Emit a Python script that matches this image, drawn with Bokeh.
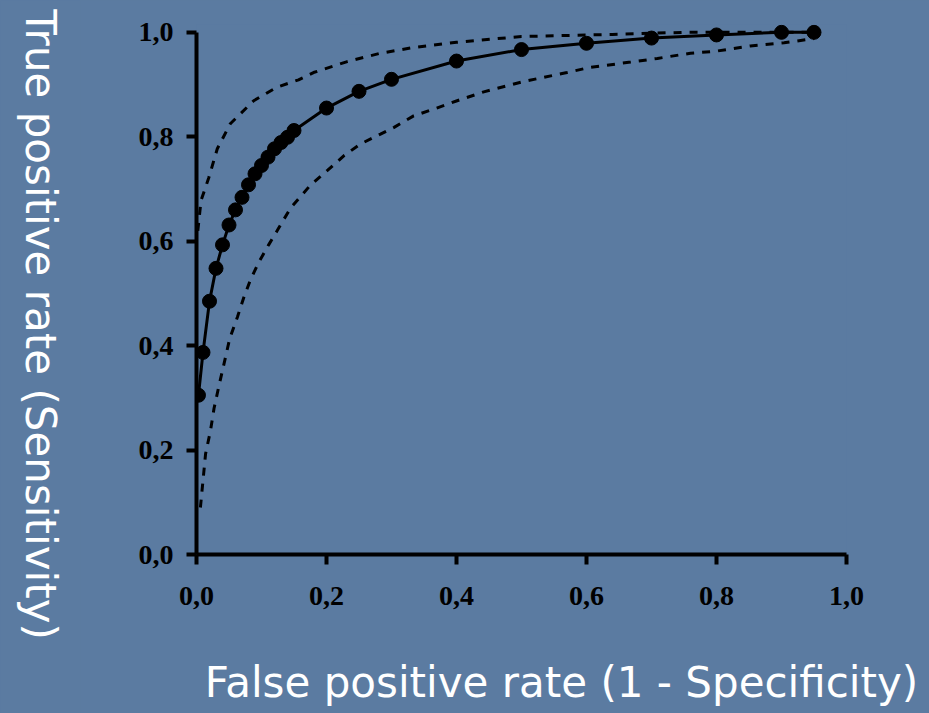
import numpy as np
from bokeh.plotting import figure
from bokeh.layouts import row
from bokeh.models import Range1d, FixedTicker
from bokeh.core.properties import value
from bokeh.embed import file_html
from bokeh.resources import INLINE

# ROC curve (estimated points)
fpr = [0.003, 0.01, 0.02, 0.03, 0.04, 0.05, 0.06, 0.07, 0.08, 0.09, 0.10, 0.11, 0.12,
       0.13, 0.14, 0.15, 0.20, 0.25, 0.30, 0.40, 0.50, 0.60, 0.70, 0.80, 0.90, 0.95]
tpr = [0.305, 0.387, 0.485, 0.548, 0.593, 0.631, 0.660, 0.684, 0.708, 0.729, 0.745, 0.761, 0.777,
       0.789, 0.799, 0.812, 0.855, 0.887, 0.910, 0.945, 0.967, 0.979, 0.989, 0.995, 1.0, 1.0]

# Upper confidence band
upper_fpr = [0.002, 0.007, 0.019, 0.032, 0.052, 0.088, 0.124, 0.157, 0.18, 0.232, 0.283,
             0.334, 0.40, 0.50, 0.64, 0.75, 0.85, 0.95]
upper_tpr = [0.62, 0.678, 0.722, 0.777, 0.825, 0.869, 0.895, 0.909, 0.923, 0.944, 0.960,
             0.971, 0.981, 0.992, 0.996, 1.0, 1.0, 1.0]

# Lower confidence band
lower_fpr = [0.006, 0.014, 0.0215, 0.027, 0.034, 0.041, 0.051, 0.063, 0.073, 0.083, 0.096,
             0.111, 0.124, 0.145, 0.175, 0.201, 0.227, 0.252, 0.283, 0.304, 0.334, 0.365,
             0.401, 0.442, 0.504, 0.57, 0.606, 0.668, 0.709, 0.76, 0.8, 0.852, 0.904, 0.95]
lower_tpr = [0.09, 0.193, 0.237, 0.28, 0.32, 0.358, 0.413, 0.455, 0.493, 0.526, 0.56,
             0.593, 0.62, 0.664, 0.707, 0.735, 0.764, 0.786, 0.805, 0.818, 0.84, 0.853,
             0.869, 0.886, 0.906, 0.923, 0.933, 0.943, 0.95, 0.96, 0.964, 0.974, 0.98, 0.988]

tick_values = [0.0, 0.2, 0.4, 0.6, 0.8, 1.0]
tick_labels = ["0,0", "0,2", "0,4", "0,6", "0,8", "1,0"]
x_title = "False positive rate (1 - Specificity)"
y_title = "True positive rate (Sensitivity)"

BG = "#5b7ba1"
NB = "\u00a0"
TITLE_FONT = "DejaVu Sans"
TITLE_SIZE = "42px"

# --- narrow panel holding the vertical (top-to-bottom) y title ---
YW, H = 80, 713
yfig = figure(width=YW, height=H, output_backend="svg", toolbar_location=None,
              x_range=Range1d(0, YW), y_range=Range1d(0, H),
              x_axis_location=None, y_axis_location=None,
              min_border=0, background_fill_color=BG, border_fill_color=BG,
              outline_line_color=None, styles={"background-color": BG})
yfig.grid.visible = False
try:
    yfig.frame_align = False
except Exception:
    pass
yfig.text(x=[40], y=[H - 324], text=[y_title], angle=-np.pi / 2,
          text_font=value(TITLE_FONT), text_font_size=value(TITLE_SIZE),
          text_color="white", text_align="center", text_baseline="alphabetic")

# --- main ROC plot ---
p = figure(width=929 - YW, height=H, output_backend="svg", toolbar_location=None,
           x_range=Range1d(0, 1.0), y_range=Range1d(0, 1.015),
           min_border_left=196 - YW, min_border_right=83, min_border_top=24,
           min_border_bottom=159,
           background_fill_color=BG, border_fill_color=BG, outline_line_color=None,
           styles={"background-color": BG})
p.grid.visible = False
try:
    p.frame_align = False
except Exception:
    pass

for ax in (p.xaxis[0], p.yaxis[0]):
    ax.ticker = FixedTicker(ticks=tick_values)
    ax.major_label_overrides = dict(zip(tick_values, tick_labels))
    ax.bounds = (0, 1)
    ax.axis_line_width = 4
    ax.axis_line_color = "black"
    ax.major_tick_line_width = 4
    ax.major_tick_line_color = "black"
    ax.major_tick_out = 10
    ax.major_tick_in = 0
    ax.minor_tick_line_color = None
    ax.major_label_text_font = "Liberation Serif"
    ax.major_label_text_font_style = "bold"
    ax.major_label_text_font_size = "28px"
    ax.major_label_text_color = "black"

p.xaxis[0].major_label_standoff = 22
p.yaxis[0].major_label_standoff = 13

xa = p.xaxis[0]
xa.axis_label = NB * 6 + x_title
xa.axis_label_standoff = 50
xa.axis_label_text_font = TITLE_FONT
xa.axis_label_text_font_style = "normal"
xa.axis_label_text_font_size = TITLE_SIZE
xa.axis_label_text_color = "white"

p.line(upper_fpr, upper_tpr, line_color="black", line_width=3, line_dash="8 8")
p.line(lower_fpr, lower_tpr, line_color="black", line_width=3, line_dash="8 8")
p.line(fpr, tpr, line_color="black", line_width=3)
p.scatter(fpr, tpr, marker="circle", size=14, fill_color="black", line_color="black")

page = row(yfig, p, styles={"background-color": BG})
open("out.html", "w").write(file_html(page, INLINE))
